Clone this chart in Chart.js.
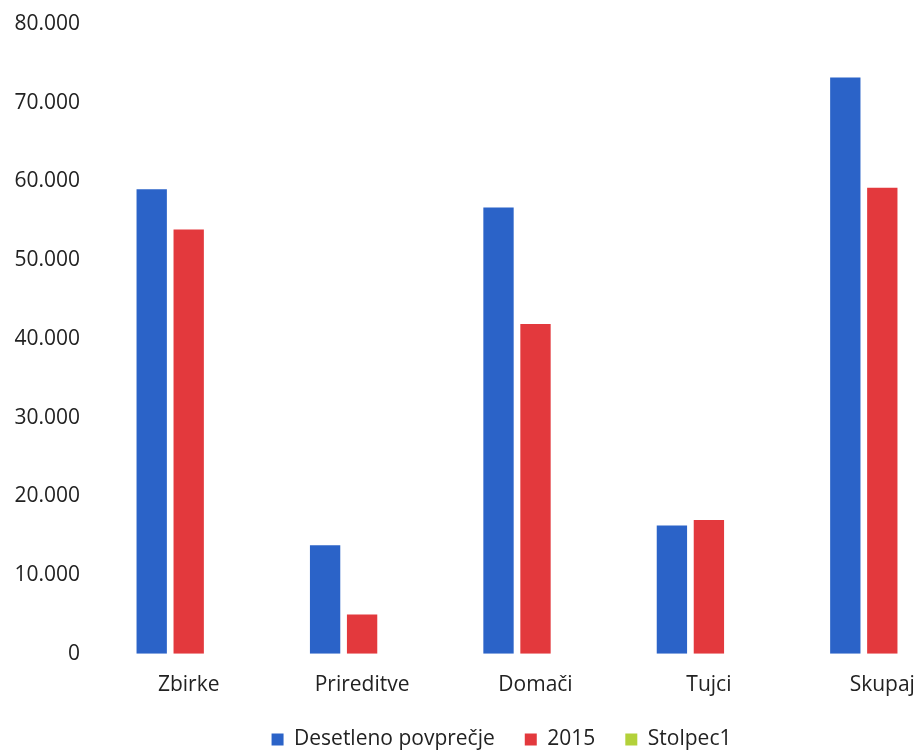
<!DOCTYPE html>
<html>
<head>
<meta charset="utf-8">
<script src="https://cdn.jsdelivr.net/npm/chart.js@4.4.1/dist/chart.umd.min.js"></script>
<style>
  html, body { margin: 0; padding: 0; background: #fff; overflow: hidden; }
  #wrap { width: 1003px; height: 764px; }
</style>
</head>
<body>
<div id="wrap"><canvas id="chart"></canvas></div>
<script>
// podatki
const categories = ['Zbirke', 'Prireditve', 'Domači', 'Tujci', 'Skupaj'];
const seriesNames = ['Desetleno povprečje', '2015', 'Stolpec1'];
const avgValues = [59000, 13800, 56700, 16300, 73200];
const values2015 = [53900, 5000, 41900, 17000, 59200];
const stolpec1Values = [0, 0, 0, 0, 0];
const yTicks = [0, 10000, 20000, 30000, 40000, 50000, 60000, 70000, 80000];

const colors = ['#2b63c8', '#e3393d', '#b3d13a'];
const font = { family: "'Open Sans', sans-serif", size: 21 };

// 80000 -> 80.000
const fmt = (v) => String(v).replace(/\B(?=(\d{3})+(?!\d))/g, '.');

// legenda je v izvirniku malo bolj desno
const shiftLegend = {
  id: 'shiftLegend',
  afterLayout(chart) {
    chart.legend.left += 34;
  },
};

new Chart(document.getElementById('chart'), {
  type: 'bar',
  data: {
    labels: categories,
    datasets: [avgValues, values2015, stolpec1Values].map((d, i) => ({
      label: seriesNames[i],
      data: d,
      backgroundColor: colors[i],
      borderWidth: 0,
      categoryPercentage: 0.64,
      barPercentage: 0.82,
    })),
  },
  plugins: [shiftLegend],
  options: {
    responsive: true,
    maintainAspectRatio: false,
    animation: false,
    layout: { padding: { top: 24, right: 34, left: 0, bottom: 4 } },
    plugins: {
      tooltip: { enabled: false },
      legend: {
        position: 'bottom',
        labels: {
          font: font,
          color: '#222',
          boxWidth: 12,
          boxHeight: 12,
          padding: 30,
        },
      },
    },
    scales: {
      x: {
        afterFit: (s) => { s.height -= 18; },
        grid: { display: false, drawTicks: false },
        border: { display: false },
        ticks: { font: font, color: '#222', padding: 19 },
      },
      y: {
        min: 0,
        max: 80000,
        afterFit: (s) => { s.width = 102; s.paddingTop = 0; },
        afterBuildTicks: (s) => { s.ticks = yTicks.map(v => ({ value: v })); },
        grid: { display: false, drawTicks: false },
        border: { display: false },
        ticks: { font: font, color: '#222', padding: 22, callback: (v) => fmt(v) },
      },
    },
  },
});
</script>
</body>
</html>
